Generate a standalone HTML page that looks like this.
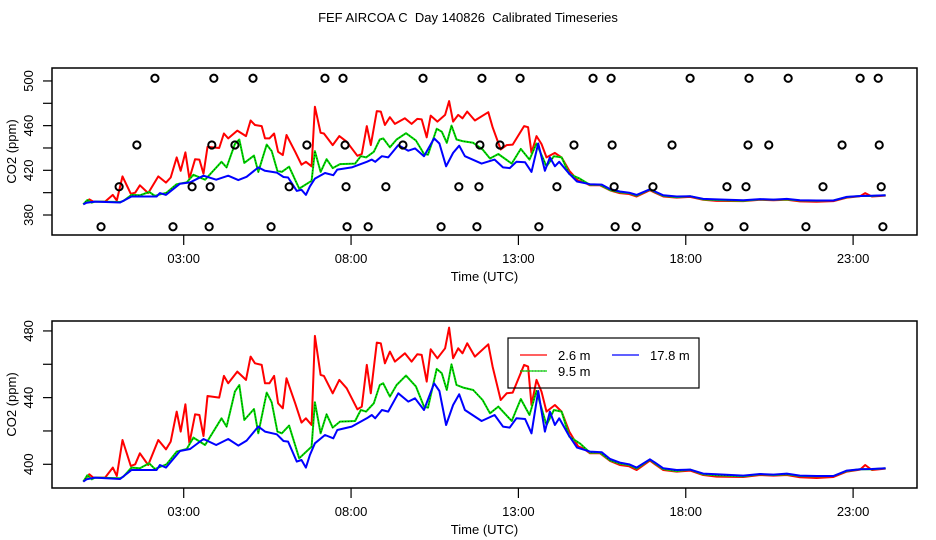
<!DOCTYPE html>
<html><head><meta charset="utf-8">
<style>
body{margin:0;background:#fff;}
svg{display:block;font-family:"Liberation Sans",sans-serif;}
</style></head>
<body>
<svg id="chart" width="936" height="540" viewBox="0 0 936 540">
<text x="468" y="22" font-size="13" text-anchor="middle" style="white-space:pre">FEF AIRCOA C  Day 140826  Calibrated Timeseries</text>
</svg>
<script>
const xTicks = [3, 8, 13, 18, 23];
const xTickLabels = ["03:00", "08:00", "13:00", "18:00", "23:00"];
const topYTicks = [380, 400, 420, 440, 460, 480, 500];
const topYLabels = ["380", "", "420", "", "460", "", "500"];
const botYTicks = [400, 420, 440, 460, 480];
const botYLabels = ["400", "", "440", "", "480"];

const redT = [0,0.18,0.3,0.65,0.88,1.0,1.17,1.42,1.55,1.69,1.94,2.24,2.47,2.61,2.79,2.91,3.05,3.17,3.34,3.47,3.59,3.71,4.06,4.2,4.33,4.6,4.86,5.0,5.13,5.33,5.43,5.56,5.7,5.82,5.96,6.07,6.33,6.52,6.65,6.82,6.92,7.09,7.19,7.45,7.65,7.87,8.19,8.32,8.47,8.59,8.77,8.89,9.01,9.16,9.31,9.61,9.81,9.98,10.11,10.26,10.38,10.58,10.81,10.93,11.05,11.2,11.33,11.47,11.7,12.1,12.23,12.47,12.65,12.83,13.17,13.29,13.39,13.54,13.69,13.84,14.09,14.29,14.52,14.79,14.94,15.14,15.44,15.74,16.03,16.31,16.53,16.93,17.08,17.33,17.73,18.13,18.52,18.92,19.72,20.22,20.62,21.02,21.41,21.91,22.41,22.81,23.21,23.36,23.56,23.97];
const redV = [389.6,394,392,392,398,393,414.6,399,400,406.6,399.6,414.6,409,413.6,431.6,419.6,436,412.6,430,429.6,417,441,440,453,448.6,455.6,450.6,464.6,460.6,459.6,448.6,448.6,453,436.6,433.6,451.6,436.6,425,427.6,423.6,477,453.6,453,442.6,450.6,445.6,433,434.6,459.6,442.6,473,472.6,460.6,467.6,461.6,466.6,461.6,466,465.6,449.6,469,463.6,469.6,482,463.6,469.6,466.6,472.6,464.6,472,458.6,438.6,442.6,443,459.6,458.6,435.6,450.6,443.6,431.6,435.6,431.6,419.6,410.6,409.6,406.6,406.6,402,399.6,398.8,396.6,402.2,400,396.6,395.6,396.2,393.6,392.6,392.4,393.6,393.2,393.6,392.2,391.8,392.4,395.6,396.8,399.6,396.6,397.4];

const greenT = [0,0.12,0.25,0.35,1.1,1.2,1.44,1.69,1.97,2.14,2.49,2.79,3.09,3.29,3.64,4.13,4.28,4.53,4.66,4.81,5.1,5.23,5.48,5.63,5.8,5.93,6.15,6.45,6.82,6.92,7.09,7.27,7.45,7.67,8.12,8.29,8.45,8.68,8.86,8.96,9.16,9.36,9.64,9.94,10.18,10.3,10.56,10.71,10.86,11.0,11.15,11.35,11.65,11.93,12.15,12.4,12.8,13.07,13.33,13.54,13.84,14.06,14.29,14.52,14.83,15.14,15.44,15.74,16.03,16.31,16.53,16.93,17.08,17.33,17.73,18.13,18.52,18.92,19.72,20.22,20.62,21.02,21.41,21.91,22.41,22.81,23.21,23.56,23.97];
const greenV = [389.6,393.4,391,392,391.6,392.6,398,397.6,400.6,397.2,400,407.6,409.2,416,411.6,427.6,422.6,443.6,447.6,426.6,433.2,418.6,443,437.2,419.6,418.6,423.2,403.6,410.6,437.2,418.6,430,422,425.6,426,432.6,431.6,436.6,447.6,448.6,440.6,447.6,453.2,446.6,434.6,434,457.2,454.6,444.6,460,447.6,446,444.6,438.6,430.6,434.6,426,439.2,429.6,444,423.6,432.6,431.6,416.6,412.6,407,407,402.4,400.4,399.6,397.4,402.8,400.6,397.2,396,396.8,394,393.4,392.8,394,393.6,394,393,392.8,393,396,397,397,397.6];

const blueT = [0,0.1,0.35,1.1,1.44,2.19,2.29,2.47,2.89,3.19,3.59,3.97,4.33,4.63,4.88,5.23,5.43,5.78,5.98,6.12,6.38,6.52,6.65,6.77,6.92,7.22,7.47,7.59,8.02,8.47,8.62,8.72,8.92,9.11,9.41,9.71,9.91,10.18,10.48,10.64,10.84,11.05,11.23,11.4,11.9,12.29,12.54,12.74,12.94,13.2,13.39,13.59,13.79,13.94,14.09,14.22,14.5,14.75,15.14,15.49,15.74,16.03,16.31,16.53,16.93,17.08,17.33,17.73,18.13,18.52,18.92,19.72,20.22,20.62,21.02,21.41,21.91,22.41,22.81,23.21,23.56,23.97];
const blueV = [389.6,391,392,391.2,396.6,396.6,399.6,398,408,409.2,415.2,411.6,415.2,411.2,414.2,422.6,419.6,418,414,413.6,401.6,402.6,398,405.6,412.6,417.6,415.6,420.6,422.6,427.6,429.6,427.6,432.6,431.6,442.6,437.6,439.6,432.6,448.6,444,423.6,435.6,442,432.6,426,429.6,422.6,422,427.6,427.2,418.6,444,419.6,431.6,423.6,427.6,417.6,410,407.6,407.2,403.2,401,400,398,403,401,397.6,396.6,396.8,394.4,394,393.2,394.2,393.8,394.4,393.2,393,393,396.2,397,397.2,397.6];

const flagT = [2.14,3.9,5.07,7.22,7.76,10.15,11.91,13.05,15.23,15.77,18.13,19.89,21.06,23.21,23.75,
 1.6,3.84,4.53,6.68,7.82,9.55,11.85,12.45,14.66,15.8,17.59,19.86,20.48,22.67,23.78,
 1.07,3.25,3.79,6.15,7.85,9.04,11.22,11.82,14.15,15.86,17.02,19.23,19.8,22.1,23.84,
 0.53,2.68,3.76,5.61,7.88,8.51,10.69,11.76,13.61,15.89,16.52,18.69,19.74,21.59,23.89];
const flagV = [502.4,502.4,502.4,502.4,502.4,502.4,502.4,502.4,502.4,502.4,502.4,502.4,502.4,502.4,502.4,
 442.7,442.7,442.7,442.7,442.7,442.7,442.7,442.7,442.7,442.7,442.7,442.7,442.7,442.7,442.7,
 405.3,405.3,405.3,405.3,405.3,405.3,405.3,405.3,405.3,405.3,405.3,405.3,405.3,405.3,405.3,
 369.5,369.5,369.5,369.5,369.5,369.5,369.5,369.5,369.5,369.5,369.5,369.5,369.5,369.5,369.5];

const NS = "http://www.w3.org/2000/svg";
const svg = document.getElementById("chart");
const L = 52, R = 917;
function xs(t){ return 83.3 + t * 33.47; }
function mk(tag, attrs, parent){ const e = document.createElementNS(NS, tag); for (const k in attrs) e.setAttribute(k, attrs[k]); (parent||svg).appendChild(e); return e; }

function panel(name, top, bottom, yMap, yTicks, yLabels, withFlags, withLegend){
  const g = mk("g", {});
  
  
  const box = mk("rect", {x:L, y:top, width:R-L, height:bottom-top, fill:"none", stroke:"#000", "stroke-width":1.5}, g);
  
  
  xTicks.forEach((t,i)=>{
    const x = xs(t);
    const tk = mk("line", {x1:x, x2:x, y1:bottom, y2:bottom+10, stroke:"#000", "stroke-width":1.2}, g);
    
    
    const tx = mk("text", {x:x, y:bottom+28, "font-size":13, "text-anchor":"middle"}, g);
    tx.textContent = xTickLabels[i];
    
    
  });
  const xt = mk("text", {x:(L+R)/2, y:bottom+46, "font-size":13, "text-anchor":"middle"}, g);
  xt.textContent = "Time (UTC)";
  
  
  yTicks.forEach((v,i)=>{
    const y = yMap(v);
    const tk = mk("line", {x1:L-9, x2:L, y1:y, y2:y, stroke:"#000", "stroke-width":1.2}, g);
    
    
    if (yLabels[i]) {
      const tx = mk("text", {x:0, y:0, "font-size":13, "text-anchor":"middle", transform:`translate(33,${y}) rotate(-90)`}, g);
      tx.textContent = yLabels[i];
      
      
    }
  });
  const yt = mk("text", {x:0, y:0, "font-size":13, "text-anchor":"middle", transform:`translate(16,${(top+bottom)/2}) rotate(-90)`}, g);
  yt.textContent = "CO2 (ppm)";
  
  

  const series = [[redT, redV, "#ff0000", "series-2-6m"], [greenT, greenV, "#00dd00", "series-9-5m"], [blueT, blueV, "#0000ff", "series-17-8m"]];
  series.forEach(s=>{
    const pts = s[0].map((t,i)=> xs(t).toFixed(1)+","+yMap(s[1][i]).toFixed(1)).join(" ");
    const pl = mk("polyline", {points:pts, fill:"none", stroke:s[2], "stroke-width":2, "stroke-linejoin":"round"}, g);
    
    
    if (s[3] === "series-9-5m") {
      const dl = mk("polyline", {points:pts, fill:"none", stroke:"#000", "stroke-width":0.6, "stroke-dasharray":"1 2"}, g);
      
      
    }
  });
  if (withFlags) {
    flagT.forEach((t,i)=>{
      const c = mk("circle", {cx:xs(t), cy:yMap(flagV[i]), r:3.6, fill:"none", stroke:"#000", "stroke-width":2}, g);
      
      
    });
  }
  if (withLegend) {
    const lg = mk("g", {}, g);
    
    
    mk("rect", {x:508, y:338, width:191, height:50, fill:"none", stroke:"#000", "stroke-width":1.2}, lg);
    const entries = [[520,355,"#ff0000","2.6 m","legend-entry-2-6m"],[612,355,"#0000ff","17.8 m","legend-entry-17-8m"],[520,371,"#00dd00","9.5 m","legend-entry-9-5m"]];
    entries.forEach(e=>{
      const eg = mk("g", {}, lg);
      
      
      mk("line", {x1:e[0], x2:e[0]+27, y1:e[1], y2:e[1], stroke:e[2], "stroke-width":1.3}, eg);
      if (e[4] === "legend-entry-9-5m") mk("line", {x1:e[0], x2:e[0]+27, y1:e[1], y2:e[1], stroke:"#000", "stroke-width":0.6, "stroke-dasharray":"1 2"}, eg);
      const tx = mk("text", {x:e[0]+38, y:e[1]+5, "font-size":13}, eg);
      tx.textContent = e[3];
    });
  }
}
panel("top-panel", 68, 235, v => 215 - (v-380)*1.117, topYTicks, topYLabels, true, false);
panel("bottom-panel", 321, 488, v => 464.3 - (v-400)*1.667, botYTicks, botYLabels, false, true);
</script>
</body></html>
